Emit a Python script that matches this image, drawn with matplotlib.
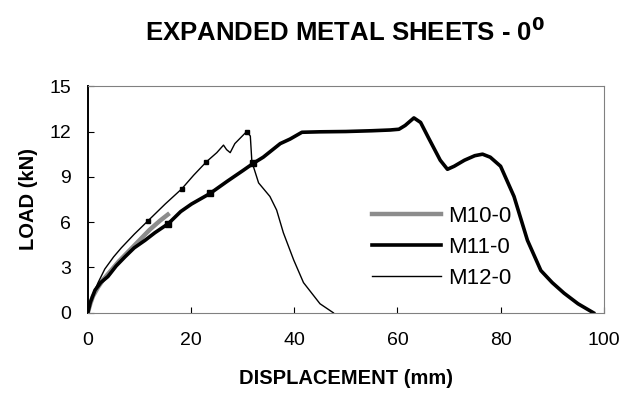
import matplotlib
matplotlib.use("Agg")
import matplotlib.pyplot as plt

plt.rcParams['font.family'] = ['Liberation Sans', 'DejaVu Sans']

# load-displacement curves
m10_x = [0, 0.5, 1, 2, 3, 4, 5, 6, 8, 10, 12, 14, 15.5]
m10_y = [0, 0.6, 1.1, 1.7, 2.2, 2.6, 3.0, 3.4, 4.1, 4.8, 5.5, 6.1, 6.5]

m11_x = [0, 0.5, 1.4, 2.5, 3.9, 5.5, 7.2, 9, 11.1, 13, 15.6, 18, 20.1, 23.7, 27,
         30, 32.1, 34, 37.3, 39.2, 41.5, 45, 50, 55, 58.6, 60.3, 61.5, 63.2, 64.5,
         66, 68.3, 69.7, 71, 73, 75, 76.5, 78, 80, 82.6, 85.2, 87.8, 90, 92.3,
         95, 98]
m11_y = [0, 0.7, 1.5, 2.0, 2.4, 3.1, 3.7, 4.3, 4.8, 5.3, 5.9, 6.7, 7.2, 7.9, 8.7,
         9.4, 9.9, 10.3, 11.2, 11.5, 11.95, 11.98, 12.0, 12.05, 12.1, 12.15, 12.4,
         12.9, 12.6, 11.6, 10.1, 9.5, 9.7, 10.1, 10.4, 10.5, 10.3, 9.7, 7.7, 4.8,
         2.8, 2.0, 1.3, 0.6, 0]

m12_x = [0, 0.5, 1, 2, 3.3, 5, 6.5, 9, 11.7, 15, 18.2, 20.5, 23, 25, 26.3, 26.9,
         27.6, 28.5, 30.8, 31.5, 31.8, 33.1, 35.3, 36.6, 37.9, 39.9, 41.8, 45,
         47.6]
m12_y = [0, 0.7, 1.2, 2.0, 2.9, 3.7, 4.3, 5.2, 6.1, 7.2, 8.2, 9.1, 10.0, 10.6,
         11.1, 10.8, 10.6, 11.2, 12.0, 11.7, 10.0, 8.6, 7.7, 6.8, 5.3, 3.5, 2.0,
         0.6, 0]

labels = ['M10-0', 'M11-0', 'M12-0']
x_ticks = [0, 20, 40, 60, 80, 100]
y_ticks = [0, 3, 6, 9, 12, 15]

fig = plt.figure(figsize=(6.27, 3.99), dpi=100)
ax = fig.add_axes([0.140, 0.216, 0.823, 0.568])

ax.plot(m10_x, m10_y, color='#8c8c8c', lw=3.2, label=labels[0], zorder=1)
ax.plot(m11_x, m11_y, color='black', lw=2.6, label=labels[1], zorder=2)
ax.plot(m12_x, m12_y, color='black', lw=1.0, label=labels[2], zorder=3)

# the small data markers sitting on the curves
m11_mk = [10, 13, 16]
m12_mk = [8, 10, 12, 18]
ax.plot([m11_x[i] for i in m11_mk], [m11_y[i] for i in m11_mk], 's',
        color='black', markersize=4.5, zorder=4)
ax.plot([m12_x[i] for i in m12_mk], [m12_y[i] for i in m12_mk], 's',
        color='black', markersize=3.5, zorder=4)

ax.set_xlim(0, 100)
ax.set_ylim(0, 15)
ax.set_xticks(x_ticks)
ax.set_yticks(y_ticks)
ax.tick_params(direction='in', length=4, labelsize=14, pad=12)
ax.tick_params(axis='x', pad=14)

for side in ['top', 'right', 'bottom']:
    ax.spines[side].set_color('#808080')
ax.spines['left'].set_color('black')
ax.spines['left'].set_linewidth(1.4)

ax.set_xlabel('DISPLACEMENT (mm)', fontsize=14.5, fontweight='bold', labelpad=14)
ax.set_ylabel('LOAD (kN)', fontsize=14.5, fontweight='bold', labelpad=8)
fig.suptitle('EXPANDED METAL SHEETS - 0$^\\mathbf{0}$', fontsize=18.5,
             fontweight='bold', x=0.55, y=0.955)

ax.legend(loc='center left', bbox_to_anchor=(0.53, 0.29), frameon=False,
          borderpad=0, fontsize=16, handlelength=3.1, handletextpad=0.3,
          labelspacing=0.45)

fig.savefig('out.png', dpi=100, facecolor='white')
